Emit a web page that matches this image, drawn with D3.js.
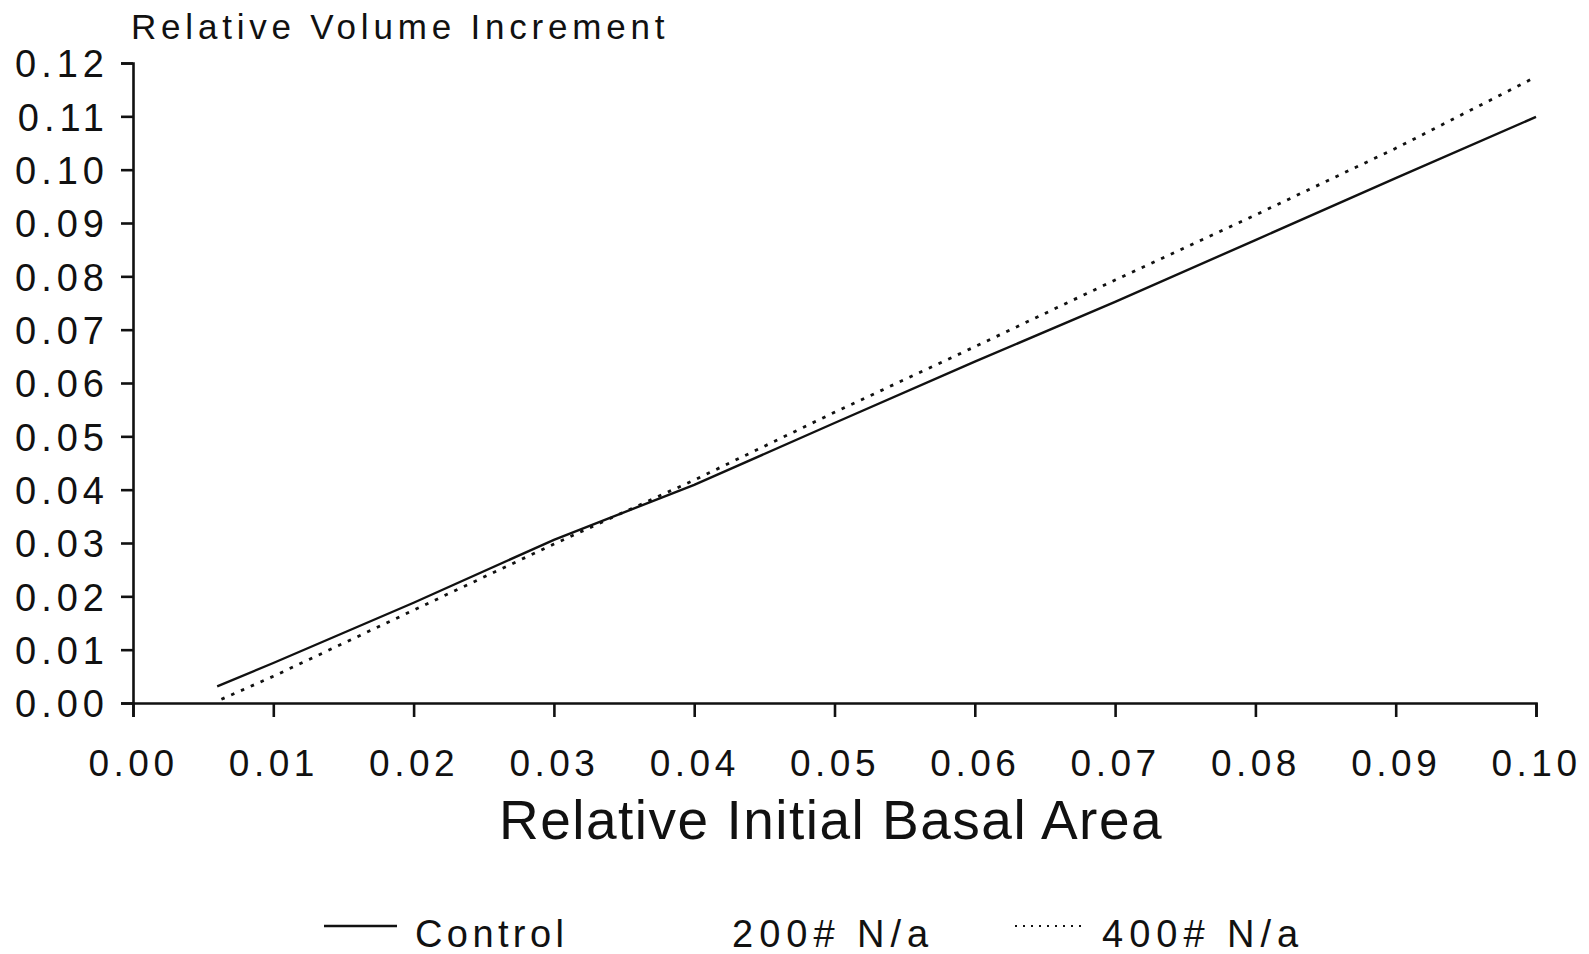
<!DOCTYPE html>
<html>
<head>
<meta charset="utf-8">
<script src="https://cdn.jsdelivr.net/npm/d3@7"></script>
<style>
  html, body { margin: 0; padding: 0; background: #fff; }
  svg { display: block; }
  text { font-family: "Liberation Sans", Arial, Helvetica, sans-serif; fill: #111; }
</style>
</head>
<body>
<svg id="chart" width="1589" height="954"></svg>
<script>
// Relative volume increment versus relative initial basal area
const basalArea   = [0.006, 0.01, 0.02, 0.03, 0.04, 0.05, 0.06, 0.07, 0.08, 0.09, 0.10];
const controlVals = [0.0031, 0.0075, 0.0188, 0.0306, 0.0409, 0.0525, 0.0640, 0.0752, 0.0868, 0.0984, 0.1099];

const basalArea400 = [0.0063, 0.01, 0.02, 0.03, 0.04, 0.05, 0.06, 0.07, 0.08, 0.09, 0.10];
const n400Vals     = [0.0007, 0.0050, 0.0174, 0.0298, 0.0418, 0.0545, 0.0668, 0.0793, 0.0915, 0.1040, 0.1174];

const xTicks = [0, 0.01, 0.02, 0.03, 0.04, 0.05, 0.06, 0.07, 0.08, 0.09, 0.10];
const yTicks = [0, 0.01, 0.02, 0.03, 0.04, 0.05, 0.06, 0.07, 0.08, 0.09, 0.10, 0.11, 0.12];

const legendNames = ["Control", "200# N/a", "400# N/a"];

const svg = d3.select("#chart");

const x = d3.scaleLinear().domain([0, 0.10]).range([133, 1536]);
const y = d3.scaleLinear().domain([0, 0.12]).range([703, 63]);

// axes
const xAxis = d3.axisBottom(x).tickValues(xTicks).tickFormat(d3.format(".2f"))
  .tickSizeInner(14).tickSizeOuter(14);
const yAxis = d3.axisLeft(y).tickValues(yTicks).tickFormat(d3.format(".2f"))
  .tickSizeInner(12).tickSizeOuter(12);

const gx = svg.append("g").attr("transform", "translate(0,703)").call(xAxis);
const gy = svg.append("g").attr("transform", "translate(133,0)").call(yAxis);

[gx, gy].forEach(g => {
  g.select(".domain").attr("stroke", "#111").attr("stroke-width", 2.6);
  g.selectAll(".tick line").attr("stroke", "#111").attr("stroke-width", 2.6);
  g.selectAll("text").attr("font-family", null).attr("fill", "#111");
});

gx.selectAll(".tick text")
  .attr("y", 0).attr("dy", null)
  .attr("transform", "translate(0,73)")
  .style("font-size", "37px")
  .style("letter-spacing", "4.5px")
  .attr("text-anchor", "middle");

gy.selectAll(".tick text")
  .attr("x", -24).attr("dy", "0.36em")
  .style("font-size", "38px")
  .style("letter-spacing", "5px")
  .attr("text-anchor", "end");

// titles
svg.append("text")
  .attr("x", 131).attr("y", 39)
  .style("font-size", "35px").style("letter-spacing", "4.8px")
  .text("Relative Volume Increment");

svg.append("text")
  .attr("x", 831).attr("y", 839)
  .attr("text-anchor", "middle")
  .style("font-size", "55px").style("letter-spacing", "1.5px")
  .text("Relative Initial Basal Area");

// series lines
const line = d3.line().x(d => x(d[0])).y(d => y(d[1]));

svg.append("path")
  .datum(d3.zip(basalArea, controlVals))
  .attr("d", line)
  .attr("fill", "none").attr("stroke", "#111").attr("stroke-width", 2.4);

svg.append("path")
  .datum(d3.zip(basalArea400, n400Vals))
  .attr("d", line)
  .attr("fill", "none").attr("stroke", "#111").attr("stroke-width", 2.8)
  .attr("stroke-dasharray", "3.5,7.2");

// legend
const legendY = 947;
const lg = svg.append("g");
lg.append("line").attr("x1", 324).attr("x2", 397).attr("y1", legendY - 21).attr("y2", legendY - 21)
  .attr("stroke", "#111").attr("stroke-width", 2.4);
lg.append("line").attr("x1", 1015).attr("x2", 1082).attr("y1", legendY - 21).attr("y2", legendY - 21)
  .attr("stroke", "#111").attr("stroke-width", 2.2).attr("stroke-dasharray", "2,6");

const legendX = [415, 732, 1102];
const legendSpacing = ["4.4px", "6px", "6px"];
lg.selectAll("text.lbl").data(legendNames).join("text")
  .attr("class", "lbl")
  .attr("x", (d, i) => legendX[i]).attr("y", legendY)
  .style("font-size", "38px").style("letter-spacing", (d, i) => legendSpacing[i])
  .text(d => d);
</script>
</body>
</html>
